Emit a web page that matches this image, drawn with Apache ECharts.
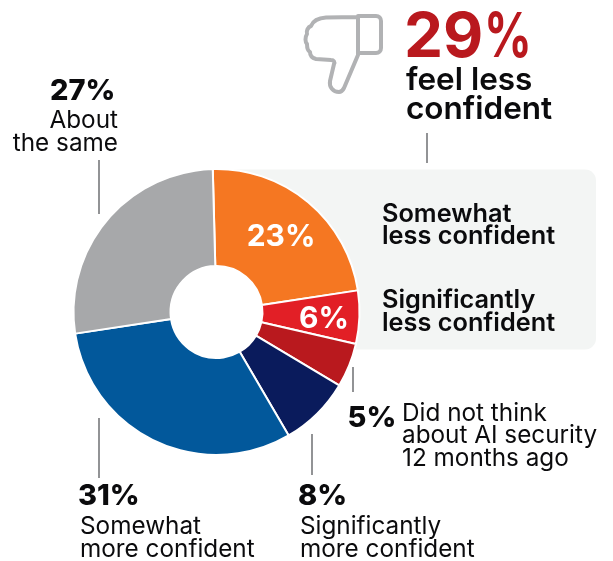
<!DOCTYPE html>
<html>
<head>
<meta charset="utf-8">
<style>html,body{margin:0;padding:0;background:#fff}#c{width:613px;height:561px}</style>
<script src="https://cdn.jsdelivr.net/npm/echarts@6/dist/echarts.min.js"></script>
</head>
<body>
<div id="c"></div>
<script>
// Survey shares, clockwise from the top of the ring
const categories = ['Somewhat less confident', 'Significantly less confident', 'Did not think about AI security 12 months ago', 'Significantly more confident', 'Somewhat more confident', 'About the same'];
const values = [23, 6, 5, 8, 31, 27];
const sliceColors = ['#f57722', '#e21f26', '#b9191e', '#0a1b5c', '#02589b', '#a7a8aa'];
const lessConfidentTotal = 29;

const FONT = 'Inter, "Noto Sans", sans-serif';
const INK = '#0b0b0d';
const RING_CENTER = [216.5, 312];
const RING_RADII = [46, 143];

// Thumbs-down icon outline, registered as a graphic shape
echarts.graphic.registerShape('thumbDown', echarts.graphic.extendPath(
  'M358 17 L326 17.5 C318 18 313 21 311 26 C308 27 306 31 307 34 C305 37 305 42 307 44 C307 48 308 51 310 52 C310 56 312 58 316 59 L331 60 C334 60 335 62 334 64 L330 81 C329 87 333 92 339 92 C342 92 343 90 344 88 L358 55 Z M358 16 L376 16 C379 16 381 18 381 21 L381 48 C381 51 379 53 376 53 L358 53 Z', {}));

// Places a text line by its baseline
function line(text, x, baseline, size, weight, opts) {
  opts = opts || {};
  const el = {
    type: 'text', z: 5,
    style: {
      text, x, y: baseline - size * 0.3,
      fill: opts.fill || INK,
      font: `${weight} ${size}px ${FONT}`,
      textAlign: opts.align || 'left',
      textVerticalAlign: 'middle'
    }
  };
  if (opts.scaleX) {
    el.scaleX = opts.scaleX;
    el.originX = x;
    el.originY = baseline;
  }
  return el;
}
function leader(x, y1, y2) {
  return { type: 'line', z: 1, shape: { x1: x, y1, x2: x, y2 }, style: { stroke: '#77787b', lineWidth: 1.6 } };
}

const LEAD = 31.5, HEAD = 25.3, BODY = 24.3, PCT = 29;

const graphicElements = [
  // Panel behind the two "less confident" slices, with the ring's hole kept white
  { type: 'rect', z: -2, shape: { x: 216, y: 169.5, width: 380, height: 180, r: 11 }, style: { fill: '#f3f5f4' } },
  { type: 'circle', z: -1, shape: { cx: RING_CENTER[0], cy: RING_CENTER[1], r: RING_RADII[0] + 1 }, style: { fill: '#fff' } },
  leader(427, 133, 163), leader(99, 160, 214), leader(99, 418, 478), leader(312, 434, 475), leader(353, 367, 392),
  { type: 'thumbDown', z: 1, style: { fill: 'none', stroke: '#b1b2b4', lineWidth: 4, lineJoin: 'round' } },
  line(String(lessConfidentTotal), 404, 56.5, 62, 700, { fill: '#b9191e' }),
  line('%', 484, 56.5, 62, 700, { fill: '#b9191e', scaleX: 0.76 }),
  line('feel less', 406, 90, LEAD, 600),
  line('confident', 406, 119, LEAD, 600),
  line('Somewhat', 382, 222, HEAD, 600),
  line('less confident', 382, 244, HEAD, 600),
  line('Significantly', 382, 308, HEAD, 600),
  line('less confident', 382, 331, HEAD, 600),
  line(values[5] + '%', 50, 100, PCT, 800),
  line('About', 118, 128, BODY, 400, { align: 'right' }),
  line('the same', 118, 151, BODY, 400, { align: 'right' }),
  line(values[4] + '%', 78, 505, PCT, 800),
  line('Somewhat', 80, 533.5, BODY, 400),
  line('more confident', 80, 556.5, BODY, 400),
  line(values[3] + '%', 298, 505, PCT, 800),
  line('Significantly', 300, 533.5, BODY, 400),
  line('more confident', 300, 556.5, BODY, 400),
  line(values[2] + '%', 347.5, 427, PCT, 800),
  line('Did not think', 402, 420.5, BODY, 400),
  line('about AI security', 402, 443, BODY, 400),
  line('12 months ago', 402, 466, BODY, 400)
];

// Only the two "less confident" slices carry their value on the ring
const innerLabelShown = [true, true, false, false, false, false];
const innerLabelShift = [[2, 0], [10, 3], [0, 0], [0, 0], [0, 0], [0, 0]];

const chart = echarts.init(document.getElementById('c'), null, { renderer: 'canvas' });
chart.setOption({
  animation: false,
  graphic: { elements: graphicElements },
  series: [{
    type: 'pie',
    z: 3,
    center: RING_CENTER,
    radius: RING_RADII,
    startAngle: 91.5,
    clockwise: true,
    silent: true,
    labelLine: { show: false },
    itemStyle: { borderColor: '#fff', borderWidth: 2 },
    data: categories.map((name, i) => ({
      name,
      value: values[i],
      itemStyle: { color: sliceColors[i] },
      label: {
        show: innerLabelShown[i],
        position: 'inside',
        formatter: '{c}%',
        color: '#fff',
        fontFamily: FONT,
        fontWeight: 700,
        fontSize: 30,
        offset: innerLabelShift[i]
      }
    }))
  }]
});
</script>
</body>
</html>
